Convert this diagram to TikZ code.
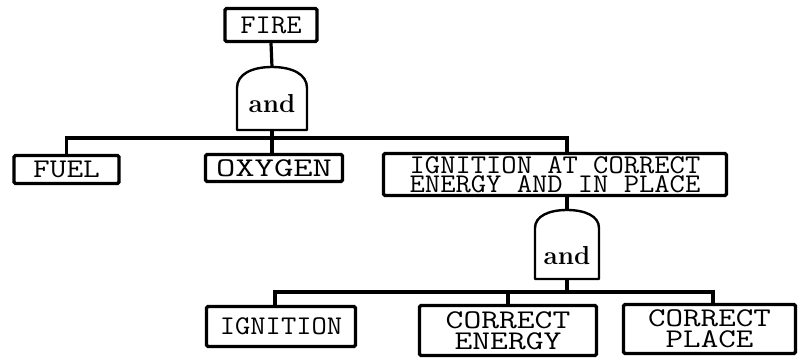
\documentclass[tikz,border=0pt]{standalone}
\usepackage{fontspec}
\newcommand{\hsc}[2]{\scalebox{#1}[1]{#2}}
\tikzset{
  evbox/.style={draw=black, line width=3.4pt, rounded corners=1.5pt, inner sep=0pt,
    align=center, font=\ttfamily\fontsize{27}{21}\selectfont},
  gatetext/.style={inner sep=0pt, font=\rmfamily\bfseries\fontsize{26}{26}\selectfont},
  gateline/.style={draw=black, line width=2.4pt, line join=round},
  conn/.style={draw=black, line width=3.2pt}
}
\begin{document}
\begin{tikzpicture}[x=1pt,y=-1pt]
\useasboundingbox[fill=white] (0,0) rectangle (800,358);
% top event
\node[evbox, minimum width=92pt, minimum height=33pt] (fire) at (271,25) {\hsc{1.10}{FIRE}};
% gate 1
\node[gatetext] (g1) at (272,104) {and};
\coordinate (g1top) at (272,67);
\coordinate (g1bot) at (272,130);
\path[gateline] (237,130) -- (237,88) .. controls (237,74) and (252,67) .. (272,67)
   .. controls (292,67) and (307,74) .. (307,88) -- (307,130) -- cycle;
% level 1 events
\node[evbox, minimum width=105pt, minimum height=28pt] (fuel) at (66.5,169.5) {\hsc{1.20}{FUEL}};
\node[evbox, minimum width=137pt, minimum height=27pt] (oxy) at (274,168) {\hsc{1.39}{OXYGEN}};
\node[evbox, minimum width=343pt, minimum height=42pt, font=\ttfamily\fontsize{27}{18.5}\selectfont] (big) at (555,174.5)
   {\hsc{1.10}{IGNITION AT CORRECT}\\\hsc{1.10}{ENERGY AND IN PLACE}};
\coordinate (b1) at (272,138);
\draw[conn] (fire.south) -- (g1top);
\draw[conn] (g1bot) -- (b1);
\draw[conn] (b1) -| (fuel.north);
\draw[conn] (b1) -| ([xshift=12pt]big.north);
\draw[conn] (b1) -- (b1 |- oxy.north);
% gate 2
\node[gatetext] (g2) at (567,256) {and};
\coordinate (g2top) at (567,210);
\coordinate (g2bot) at (567,279);
\path[gateline] (535,279) -- (535,228) .. controls (535,216) and (549,210) .. (567,210)
   .. controls (585,210) and (599,216) .. (599,228) -- (599,279) -- cycle;
\draw[conn] (big.south -| g2top) -- (g2top);
% level 2 events
\node[evbox, minimum width=149pt, minimum height=40pt] (ign) at (281,326.5) {\hsc{1.10}{IGNITION}};
\node[evbox, minimum width=177pt, minimum height=50pt] (ce) at (508,330.5) {\hsc{1.28}{CORRECT}\\\hsc{1.28}{ENERGY}};
\node[evbox, minimum width=172pt, minimum height=49pt] (cp) at (709.5,329) {\hsc{1.26}{CORRECT}\\\hsc{1.26}{PLACE}};
\coordinate (b2) at (567,292);
\draw[conn] (g2bot) -- (b2);
\draw[conn] (b2) -| ([xshift=-6pt]ign.north);
\draw[conn] (b2) -| (ce.north);
\draw[conn] (b2) -| ([xshift=3.5pt]cp.north);
\end{tikzpicture}
\end{document}
